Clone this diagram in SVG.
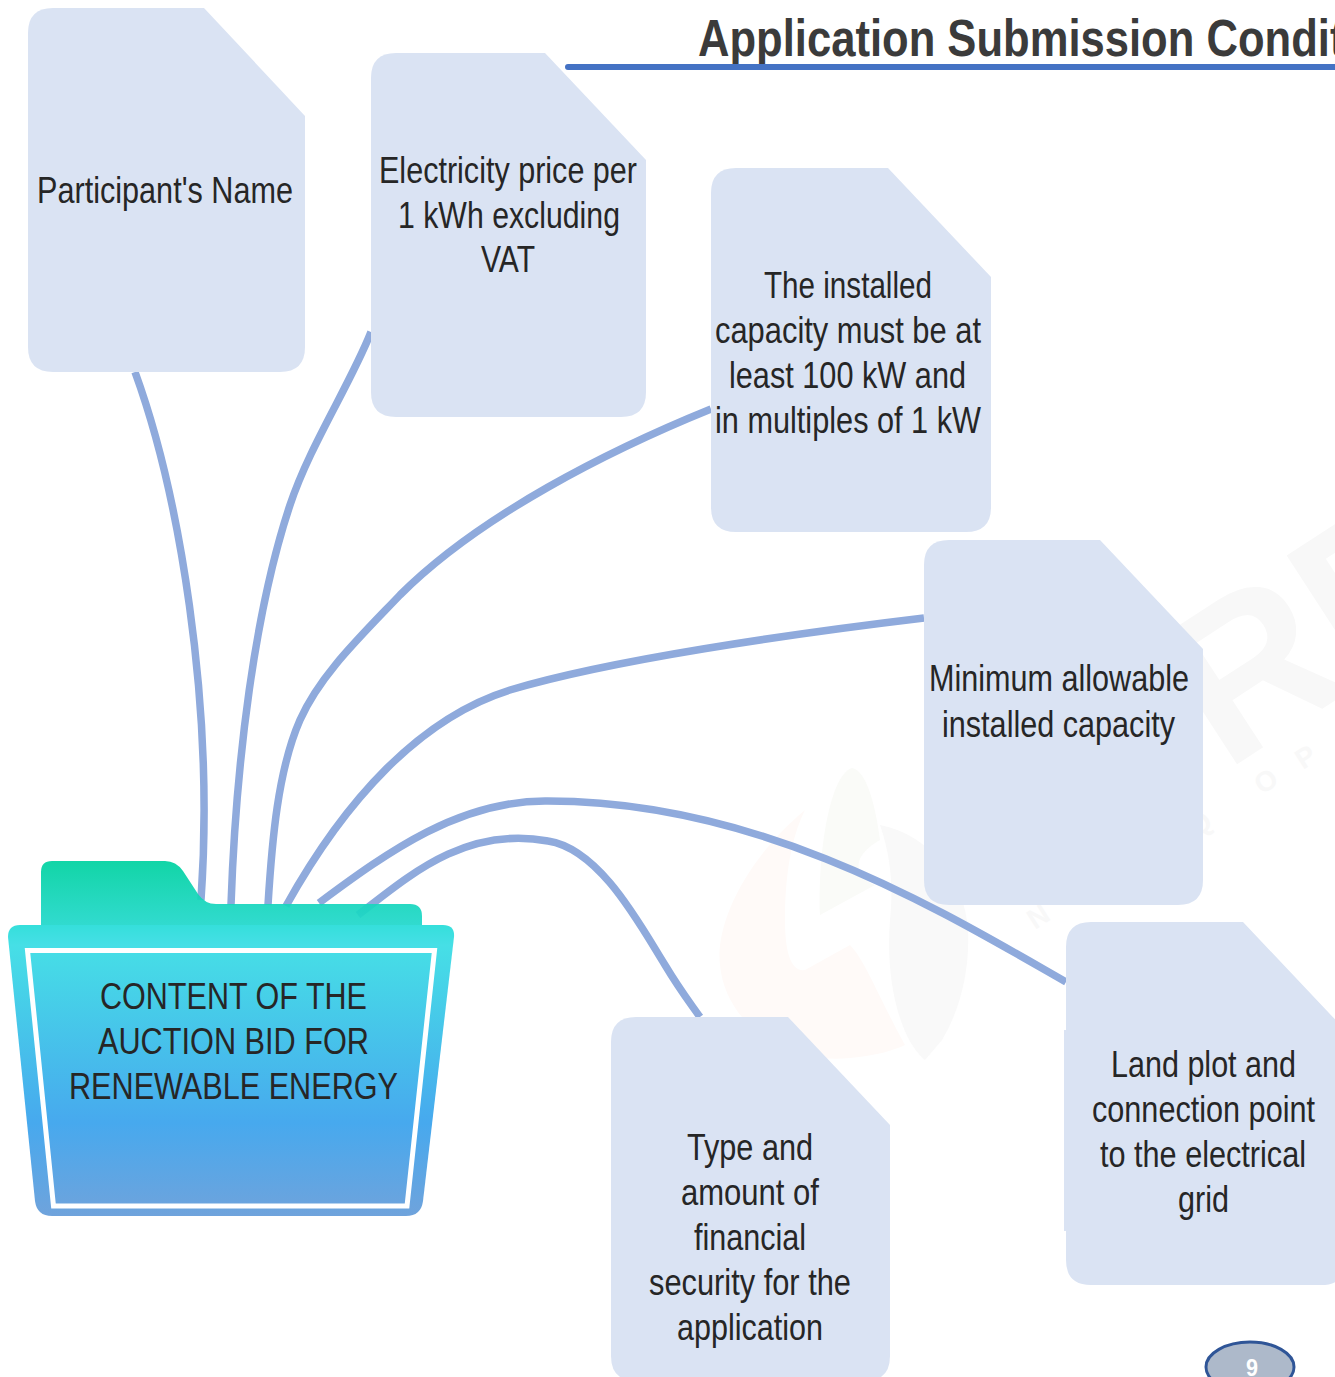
<svg xmlns="http://www.w3.org/2000/svg" width="1335" height="1377" viewBox="0 0 1335 1377">
<style>
text{font-family:"Liberation Sans",Arial,sans-serif}
.n{fill:#dae3f3}
.t{font-size:37px;fill:#262626}
.c{fill:none;stroke:#8faadc;stroke-width:7.5}
.w{fill:#f8f8f8;font-weight:bold}
</style>
<defs>
<linearGradient id="tab" x1="0" y1="0" x2="0" y2="1"><stop offset="0" stop-color="#00d2a0"/><stop offset="1" stop-color="#22d8cc"/></linearGradient>
<linearGradient id="front" x1="0" y1="0" x2="0" y2="1"><stop offset="0" stop-color="#35dfdb"/><stop offset=".07" stop-color="#46dfe6"/><stop offset=".68" stop-color="#47a9ee"/><stop offset="1" stop-color="#6fa3dc"/></linearGradient>
</defs>
<g id="watermark">
<path d="M805,810C745,860 715,925 720,965C725,1020 780,1065 850,1058C875,1056 895,1050 905,1045C880,1000 865,960 850,945L805,970C790,972 785,950 785,920C785,880 790,840 805,810Z" fill="#fffaf8"/>
<path d="M852,768C830,775 818,850 820,915L875,885C860,880 845,860 880,840C875,800 865,770 852,768Z" fill="#fafbf8"/>
<path d="M890,920C885,980 900,1040 925,1060L942,1040C960,1010 970,970 968,930C965,880 930,835 880,825C892,860 893,890 890,920Z" fill="#f9f9f9"/>
<text class="w" transform="translate(1225,772) rotate(-33)" font-size="215">RE</text>
<text class="w" transform="translate(1035,930) rotate(-33)" font-size="28" font-weight="normal">N</text>
<text class="w" transform="translate(1196,838) rotate(-33)" font-size="28">Q</text>
<text class="w" transform="translate(1262,795) rotate(-33)" font-size="28">O</text>
<text class="w" transform="translate(1303,770) rotate(-33)" font-size="28">P</text>
</g>
<g id="connectors">
<path class="c" d="M135,372C178,490 215,700 201,900"/>
<path class="c" d="M371,332C350,385 310,445 290,505C255,610 236,760 231,905"/>
<path class="c" d="M711,409C610,450 480,515 400,595C360,637 320,675 300,720C278,770 272,840 268,905"/>
<path class="c" d="M924,618C790,634 610,660 510,690C420,718 345,800 286,906"/>
<path class="c" d="M1066,982C940,910 760,800 545,801C460,801 390,850 319,903"/>
<path class="c" d="M358,915C410,875 465,826 548,841C600,849 640,925 665,965C680,990 688,1000 700,1017"/>
</g>
<g id="title">
<text x="698" y="56" font-size="52" font-weight="bold" fill="#3b3b3b" textLength="736" lengthAdjust="spacingAndGlyphs">Application Submission Conditions</text>
<path d="M568,67H1340" stroke="#4472c4" stroke-width="6" stroke-linecap="round" fill="none"/>
</g>
<g id="folder">
<path d="M41,925L41,872Q41,861 52,861L165,861Q176,861 183,871L198,894Q205,904 216,904L410,904Q422,904 422,916L422,926Z" fill="url(#tab)" fill-opacity=".93"/>
<path d="M8,937Q8,925 20,925L443,925Q455,925 454,937L423,1201Q421,1216 406,1216L52,1216Q37,1216 35,1201Z" fill="url(#front)"/>
<path d="M27.5,950.5H434.5L407,1206H53.5Z" fill="none" stroke="#fff" stroke-width="5"/>
<text class="t" x="100" y="1009" textLength="267" lengthAdjust="spacingAndGlyphs">CONTENT OF THE</text>
<text class="t" x="98" y="1054" textLength="271" lengthAdjust="spacingAndGlyphs">AUCTION BID FOR</text>
<text class="t" x="69" y="1099" textLength="329" lengthAdjust="spacingAndGlyphs">RENEWABLE ENERGY</text>
</g>
<g id="node1">
<path class="n" d="M53,8H204L305,116V347Q305,372 280,372H53Q28,372 28,347V33Q28,8 53,8Z"/>
<text class="t" x="37" y="203" textLength="256" lengthAdjust="spacingAndGlyphs">Participant's Name</text>
</g>
<g id="node2">
<path class="n" d="M396,53H545L646,160V392Q646,417 621,417H396Q371,417 371,392V78Q371,53 396,53Z"/>
<text class="t" x="379" y="183" textLength="258" lengthAdjust="spacingAndGlyphs">Electricity price per</text>
<text class="t" x="398" y="228" textLength="222" lengthAdjust="spacingAndGlyphs">1 kWh excluding</text>
<text class="t" x="481" y="272" textLength="54" lengthAdjust="spacingAndGlyphs">VAT</text>
</g>
<g id="node3">
<path class="n" d="M736,168H888L991,277V507Q991,532 966,532H736Q711,532 711,507V193Q711,168 736,168Z"/>
<text class="t" x="764" y="298" textLength="168" lengthAdjust="spacingAndGlyphs">The installed</text>
<text class="t" x="715" y="343" textLength="266" lengthAdjust="spacingAndGlyphs">capacity must be at</text>
<text class="t" x="729" y="388" textLength="237" lengthAdjust="spacingAndGlyphs">least 100 kW and</text>
<text class="t" x="715" y="433" textLength="266" lengthAdjust="spacingAndGlyphs">in multiples of 1 kW</text>
</g>
<g id="node4">
<path class="n" d="M949,540H1100L1203,649V880Q1203,905 1178,905H949Q924,905 924,880V565Q924,540 949,540Z"/>
<text class="t" x="929" y="691" textLength="260" lengthAdjust="spacingAndGlyphs">Minimum allowable</text>
<text class="t" x="942" y="737" textLength="233" lengthAdjust="spacingAndGlyphs">installed capacity</text>
</g>
<g id="node5">
<path class="n" d="M1091,922H1243L1346,1031V1260Q1346,1285 1321,1285H1091Q1066,1285 1066,1260V1231H1064V1030H1066V947Q1066,922 1091,922Z"/>
<text class="t" x="1111" y="1077" textLength="185" lengthAdjust="spacingAndGlyphs">Land plot and</text>
<text class="t" x="1092" y="1122" textLength="223" lengthAdjust="spacingAndGlyphs">connection point</text>
<text class="t" x="1100" y="1167" textLength="206" lengthAdjust="spacingAndGlyphs">to the electrical</text>
<text class="t" x="1178" y="1212" textLength="51" lengthAdjust="spacingAndGlyphs">grid</text>
</g>
<g id="node6">
<path class="n" d="M636,1017H788L890,1125V1356Q890,1381 865,1381H636Q611,1381 611,1356V1042Q611,1017 636,1017Z"/>
<text class="t" x="687" y="1160" textLength="126" lengthAdjust="spacingAndGlyphs">Type and</text>
<text class="t" x="681" y="1205" textLength="138" lengthAdjust="spacingAndGlyphs">amount of</text>
<text class="t" x="694" y="1250" textLength="112" lengthAdjust="spacingAndGlyphs">financial</text>
<text class="t" x="649" y="1295" textLength="202" lengthAdjust="spacingAndGlyphs">security for the</text>
<text class="t" x="677" y="1340" textLength="146" lengthAdjust="spacingAndGlyphs">application</text>
</g>
<g id="page">
<ellipse cx="1250" cy="1367" rx="44" ry="25" fill="#adb9ca" stroke="#2f5597" stroke-width="3"/>
<text x="1246" y="1376" font-size="24" font-weight="bold" fill="#fff" textLength="12" lengthAdjust="spacingAndGlyphs">9</text>
</g>
</svg>
